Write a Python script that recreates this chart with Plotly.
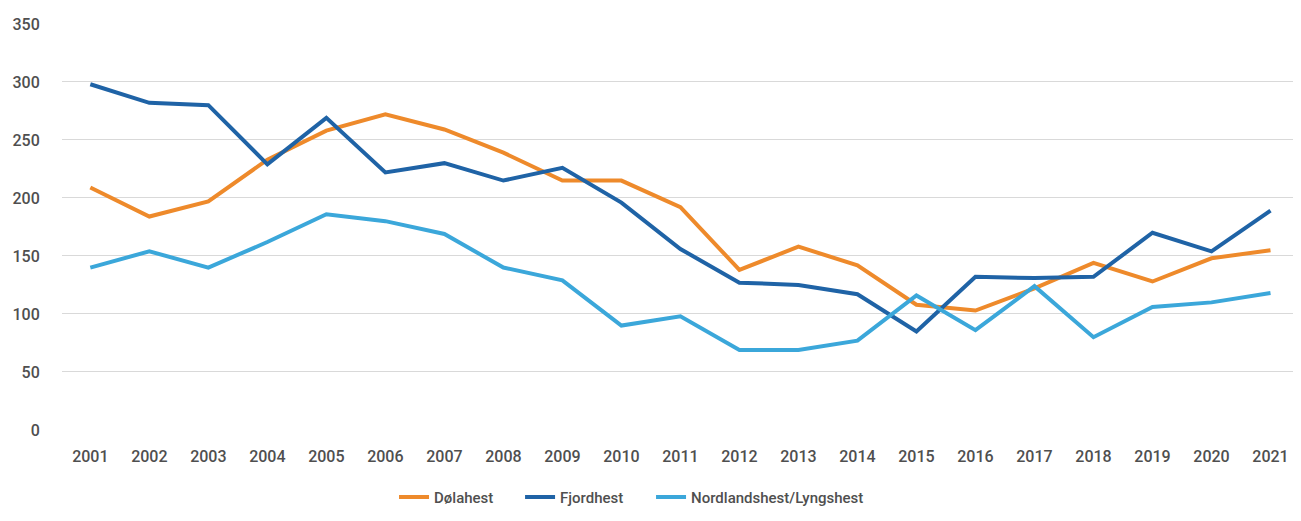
import plotly.graph_objects as go

years = list(range(2001, 2022))
dolahest = [209, 184, 197, 233, 258, 272, 259, 239, 215, 215, 192, 138, 158, 142, 108, 103, 122, 144, 128, 148, 155]
fjordhest = [298, 282, 280, 229, 269, 222, 230, 215, 226, 196, 156, 127, 125, 117, 85, 132, 131, 132, 170, 154, 189]
nordland = [140, 154, 140, 162, 186, 180, 169, 140, 129, 90, 98, 69, 69, 77, 116, 86, 124, 80, 106, 110, 118]
ytickvals = [0, 50, 100, 150, 200, 250, 300, 350]

series = [
    ("Dølahest", dolahest, "#EE8A2B", "legend", 0.2682),
    ("Fjordhest", fjordhest, "#1F63A6", "legend2", 0.3700),
    ("Nordlandshest/Lyngshest", nordland, "#3BA7DA", "legend3", 0.4758),
]

font_col = "#4F4F4F"
fig = go.Figure()
legends = {}
for name, vals, col, leg, lx in series:
    fig.add_trace(go.Scatter(x=years, y=vals, name=name, mode="lines",
                             line=dict(color=col, width=4), legend=leg))
    legends[leg] = dict(orientation="h", x=lx, xanchor="left", y=-0.165, yanchor="middle",
                        font=dict(size=15, color=font_col, weight=500),
                        bgcolor="rgba(0,0,0,0)")

fig.update_layout(
    width=1293, height=513,
    margin=dict(l=54, r=1, t=15, b=91, autoexpand=False),
    paper_bgcolor="white", plot_bgcolor="white",
    font=dict(family="Roboto", size=16, color=font_col, weight=500),
    showlegend=True,
    xaxis=dict(range=[2000.52, 2021.5], tickmode="array", tickvals=years,
               ticktext=[str(y) for y in years], showgrid=False, zeroline=False,
               ticks="outside", ticklen=12, tickcolor="rgba(0,0,0,0)", showline=False,
               automargin=False),
    yaxis=dict(range=[0, 350.8], tickvals=ytickvals,
               showgrid=True, gridcolor="#D9D9D9", gridwidth=1, zeroline=False,
               ticks="outside", ticklen=18, tickcolor="rgba(0,0,0,0)", showline=False,
               automargin=False),
    **legends,
)

fig.write_html("out.html")
